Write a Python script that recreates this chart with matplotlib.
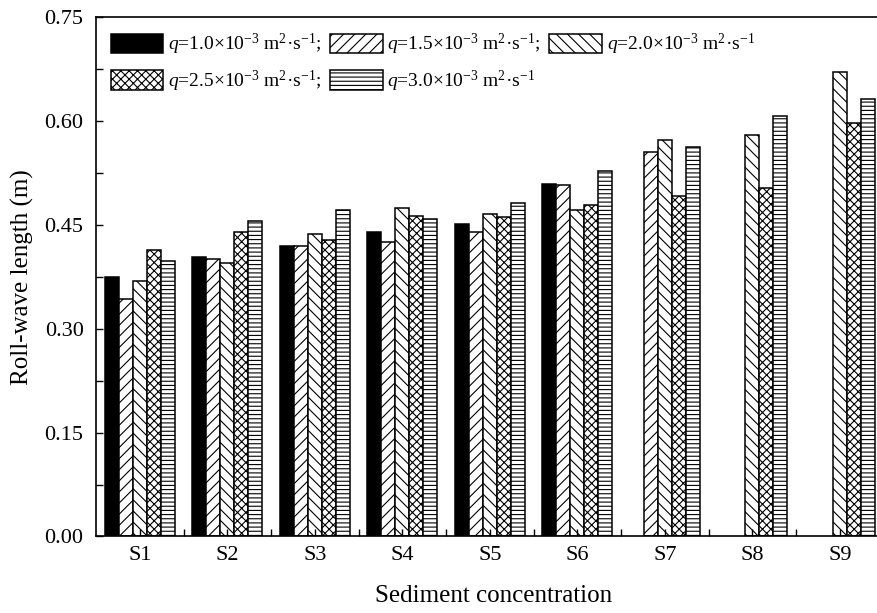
import matplotlib

matplotlib.use("Agg")
import matplotlib.pyplot as plt
import numpy as np

plt.rcParams["font.family"] = ["Liberation Serif", "DejaVu Serif"]
plt.rcParams["mathtext.fontset"] = "custom"
plt.rcParams["mathtext.rm"] = "Liberation Serif"
plt.rcParams["mathtext.it"] = "Liberation Serif:italic"
plt.rcParams["hatch.linewidth"] = 0.8

categories = ["S1", "S2", "S3", "S4", "S5", "S6", "S7", "S8", "S9"]
nan = np.nan
q10 = [0.375, 0.404, 0.420, 0.439, 0.451, 0.509, nan, nan, nan]
q15 = [0.343, 0.401, 0.419, 0.425, 0.440, 0.508, 0.555, nan, nan]
q20 = [0.369, 0.395, 0.436, 0.474, 0.465, 0.471, 0.572, 0.580, 0.671]
q25 = [0.413, 0.440, 0.428, 0.463, 0.461, 0.479, 0.492, 0.503, 0.597]
q30 = [0.398, 0.455, 0.472, 0.458, 0.481, 0.527, 0.562, 0.607, 0.631]

series = [q10, q15, q20, q25, q30]
labels = [
    r"$q$=1.0×10$^{-3}$ m$^{2}$·s$^{-1}$;",
    r"$q$=1.5×10$^{-3}$ m$^{2}$·s$^{-1}$;",
    r"$q$=2.0×10$^{-3}$ m$^{2}$·s$^{-1}$",
    r"$q$=2.5×10$^{-3}$ m$^{2}$·s$^{-1}$;",
    r"$q$=3.0×10$^{-3}$ m$^{2}$·s$^{-1}$",
]
hatches = [None, "///", "\\\\\\", "xxxx", "----"]
faces = ["black", "white", "white", "white", "white"]

fig = plt.figure(figsize=(8.77, 6.13), dpi=100)
ax = fig.add_axes([0.1095, 0.1248, 0.898, 0.8475])

x = np.arange(1, len(categories) + 1)
w = 0.16
bars = []
for i, vals in enumerate(series):
    b = ax.bar(x + (i - 2) * w, vals, w, color=faces[i], edgecolor="black",
               hatch=hatches[i], lw=1.1, label=labels[i])
    bars.append(b)

ax.set_xlim(0.5, 9.5)
ax.set_ylim(0, 0.75)
yt = np.arange(0, 0.76, 0.15)
ax.set_yticks(yt)
ax.set_yticks(np.arange(0.075, 0.75, 0.15), minor=True)
ax.set_yticklabels([f"{v:.2f}" for v in yt])
ax.set_xticks(x)
ax.set_xticks(x[:-1] + 0.5, minor=True)
ax.set_xticklabels(categories)
ax.tick_params(which="both", direction="in", top=False, right=False,
               labelsize=16, width=1.0, length=5)
ax.tick_params(axis="x", pad=7)
ax.tick_params(axis="y", pad=9)
ax.spines["right"].set_visible(False)
for s in ("left", "bottom", "top"):
    ax.spines[s].set_linewidth(1.2)

ax.set_xlabel("Sediment concentration", fontsize=18)
ax.set_ylabel("Roll-wave length (m)", fontsize=18)
ax.xaxis.set_label_coords(0.505, -0.093)
ax.yaxis.set_label_coords(-0.079, 0.5)

# legend: row 1 holds 1.0/1.5/2.0, row 2 holds 2.5/3.0
order = [0, 3, 1, 4, 2]
ax.legend([bars[i] for i in order], [labels[i] for i in order], ncol=3,
          loc="upper left", bbox_to_anchor=(0.0, 1.0), frameon=False,
          fontsize=14, handlelength=2.7, handleheight=1.15,
          columnspacing=0.45, handletextpad=0.25, labelspacing=0.6,
          borderaxespad=0.35)

fig.savefig("out.png", dpi=100)
